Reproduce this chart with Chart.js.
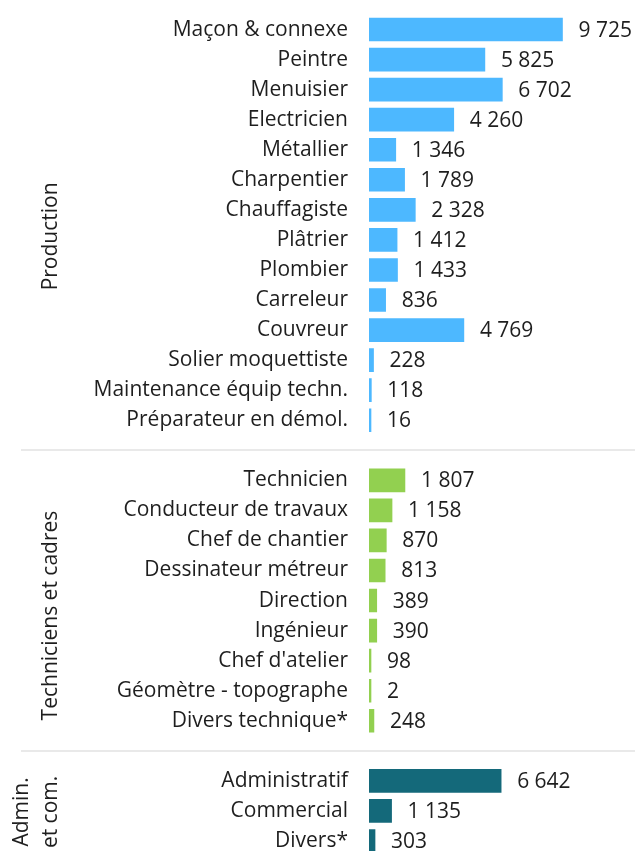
<!DOCTYPE html>
<html lang="fr">
<head>
<meta charset="utf-8">
<title>Effectifs par métier</title>
<script src="https://cdn.jsdelivr.net/npm/chart.js@4/dist/chart.umd.min.js"></script>
<style>
    html, body {
        margin: 0;
        padding: 0;
        background: #ffffff;
        overflow: hidden;
    }
    #wrap {
        position: relative;
        width: 635px;
        height: 856px;
    }
</style>
</head>
<body>
<div id="wrap"><canvas id="metiersChart"></canvas></div>
<script>
// Data
const productionLabels = ['Maçon & connexe', 'Peintre', 'Menuisier', 'Electricien', 'Métallier', 'Charpentier',
    'Chauffagiste', 'Plâtrier', 'Plombier', 'Carreleur', 'Couvreur', 'Solier moquettiste',
    'Maintenance équip techn.', 'Préparateur en démol.'];
const productionValues = [9725, 5825, 6702, 4260, 1346, 1789, 2328, 1412, 1433, 836, 4769, 228, 118, 16];

const techLabels = ['Technicien', 'Conducteur de travaux', 'Chef de chantier', 'Dessinateur métreur',
    'Direction', 'Ingénieur', "Chef d'atelier", 'Géomètre - topographe', 'Divers technique*'];
const techValues = [1807, 1158, 870, 813, 389, 390, 98, 2, 248];

const adminLabels = ['Administratif', 'Commercial', 'Divers*'];
const adminValues = [6642, 1135, 303];

const groupNames = [['Production'], ['Techniciens et cadres'], ['Admin.', 'et com.']];
const groupColors = ['#4db8ff', '#92d050', '#14697a'];

const FONT = '"Open Sans", "Noto Sans", sans-serif';
const FONT_SIZE = 21;
const TEXT_COLOR = '#1e1e1e';

// Build one category axis with an empty slot between groups
const groups = [
    { labels: productionLabels, values: productionValues },
    { labels: techLabels, values: techValues },
    { labels: adminLabels, values: adminValues }
];
const labels = [];
const values = [];
const colors = [];
const groupRanges = [];
const separators = [];

groups.forEach((g, gi) => {
    if (gi > 0) {
        separators.push(labels.length);
        labels.push('');
        values.push(null);
        colors.push('transparent');
    }
    const start = labels.length;
    g.labels.forEach((lab, i) => {
        labels.push(lab);
        values.push(g.values[i]);
        colors.push(groupColors[gi]);
    });
    groupRanges.push([start, labels.length - 1]);
});

function formatNumber(v) {
    return String(v).replace(/\B(?=(\d{3})+(?!\d))/g, ' ');
}

// Separators, group titles and value labels
const titleShift = [11.5, 15, 1];   // group titles sit a bit below the group middle
const titleX = [51, 51, 37];

const decorPlugin = {
    id: 'decor',
    afterDatasetsDraw(chart) {
        const ctx = chart.ctx;
        const yScale = chart.scales.y;
        const meta = chart.getDatasetMeta(0);

        ctx.save();
        // separator lines
        ctx.strokeStyle = '#e2e2e2';
        ctx.lineWidth = 1.5;
        separators.forEach(idx => {
            const y = Math.round(yScale.getPixelForValue(idx));
            ctx.beginPath();
            ctx.moveTo(21, y);
            ctx.lineTo(chart.width, y);
            ctx.stroke();
        });

        // value labels
        ctx.fillStyle = TEXT_COLOR;
        ctx.font = FONT_SIZE + 'px ' + FONT;
        ctx.textAlign = 'left';
        ctx.textBaseline = 'middle';
        meta.data.forEach((bar, i) => {
            if (values[i] === null) return;
            ctx.fillText(formatNumber(values[i]), bar.x + 16, bar.y + 1);
        });

        // rotated group titles
        groupRanges.forEach((r, gi) => {
            const yMid = (yScale.getPixelForValue(r[0]) + yScale.getPixelForValue(r[1])) / 2 + titleShift[gi];
            const lines = groupNames[gi];
            ctx.save();
            ctx.translate(titleX[gi], yMid);
            ctx.rotate(-Math.PI / 2);
            ctx.textAlign = 'center';
            ctx.textBaseline = 'middle';
            lines.forEach((line, li) => {
                const off = (li - (lines.length - 1) / 2) * 29;
                ctx.fillText(line, 0, off);
            });
            ctx.restore();
        });
        ctx.restore();
    }
};

const chart = new Chart(document.getElementById('metiersChart'), {
    type: 'bar',
    data: {
        labels: labels,
        datasets: [{
            data: values,
            backgroundColor: colors,
            barThickness: 23,
            minBarLength: 2
        }]
    },
    options: {
        indexAxis: 'y',
        responsive: true,
        maintainAspectRatio: false,
        animation: false,
        layout: {
            padding: { top: 14.5, right: 0, bottom: 0, left: 0 }
        },
        scales: {
            x: {
                display: false,
                min: 0,
                max: 13370
            },
            y: {
                grid: { display: false, drawTicks: false },
                border: { display: false },
                ticks: {
                    autoSkip: false,
                    padding: 21,
                    color: TEXT_COLOR,
                    font: { family: FONT, size: FONT_SIZE }
                },
                afterFit(scale) {
                    scale.width = 369;
                    // no extra room for half-labels at the ends
                    scale.paddingTop = 0;
                    scale.paddingBottom = 0;
                }
            }
        },
        plugins: {
            legend: { display: false },
            tooltip: { enabled: false }
        }
    },
    plugins: [decorPlugin]
});
</script>
</body>
</html>
